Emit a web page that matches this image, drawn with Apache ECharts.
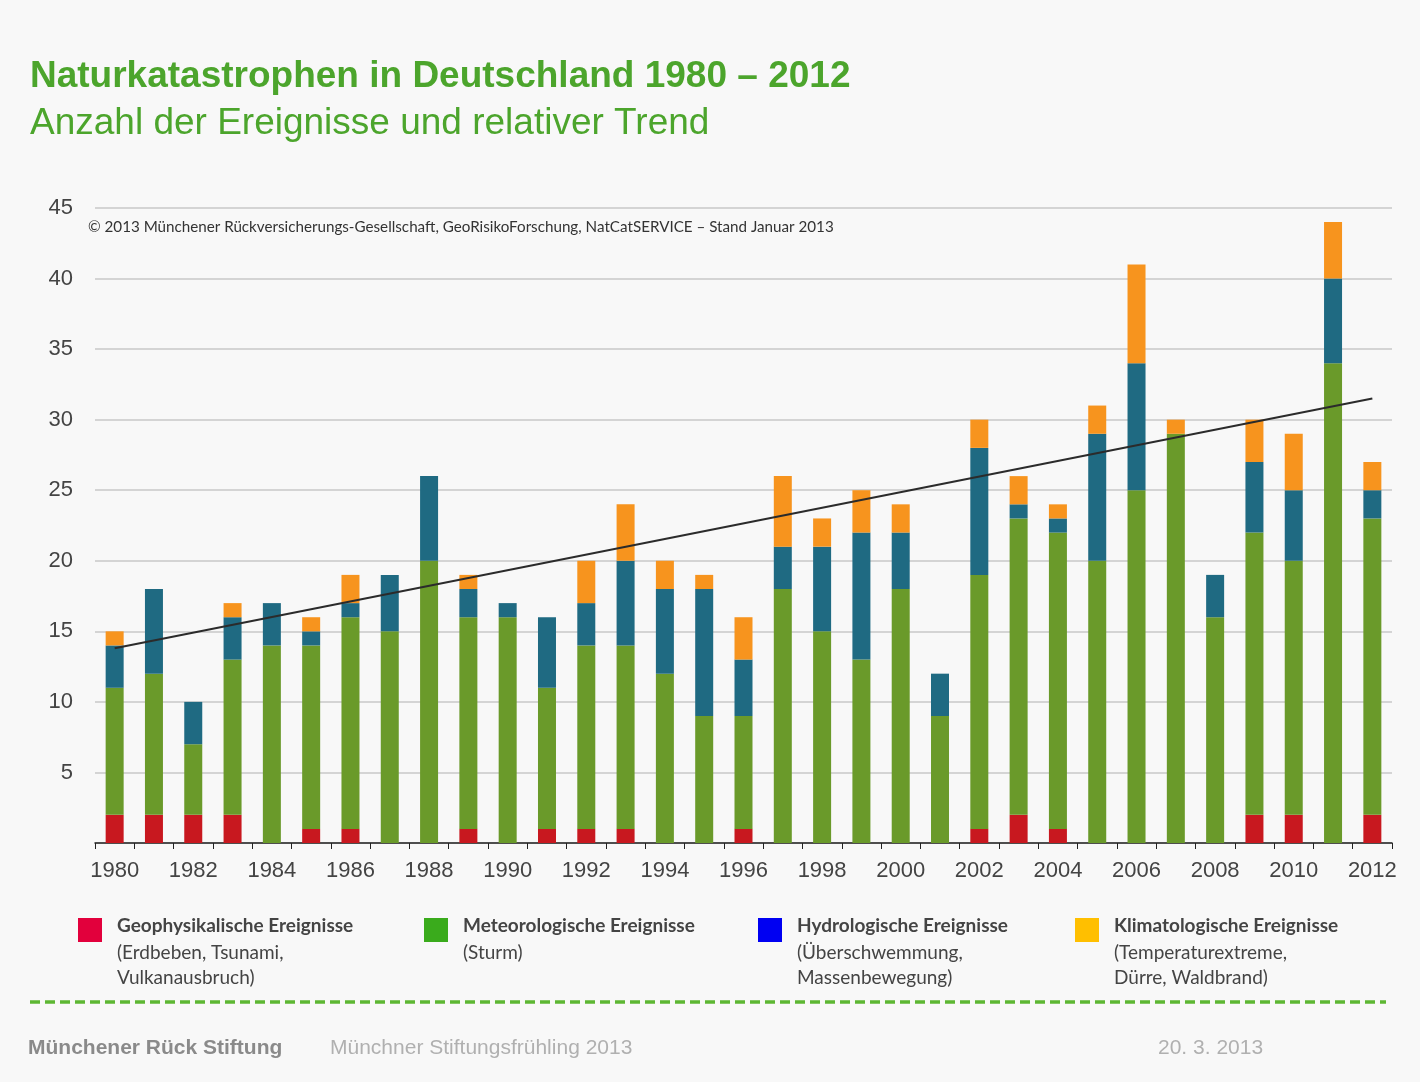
<!DOCTYPE html>
<html>
<head>
<meta charset="utf-8">
<script src="https://cdn.jsdelivr.net/npm/echarts@6/dist/echarts.min.js"></script>
<style>
  html, body { margin: 0; padding: 0; background: #f8f8f8; }
  #chart { width: 1420px; height: 1082px; }
</style>
</head>
<body>
<div id="chart"></div>
<script>
// Years on the x axis
const years = ['1980','1981','1982','1983','1984','1985','1986','1987','1988','1989',
  '1990','1991','1992','1993','1994','1995','1996','1997','1998','1999',
  '2000','2001','2002','2003','2004','2005','2006','2007','2008','2009',
  '2010','2011','2012'];

// Number of events per year, by category
const geophysical   = [2,2,2,2,0,1,1,0,0,1, 0,1,1,1,0,0,1,0,0,0, 0,0,1,2,1,0,0,0,0,2, 2,0,2];
const meteorological= [9,10,5,11,14,13,15,15,20,15, 16,10,13,13,12,9,8,18,15,13, 18,9,18,21,21,20,25,29,16,20, 18,34,21];
const hydrological  = [3,6,3,3,3,1,1,4,6,2, 1,5,3,6,6,9,4,3,6,9, 4,3,9,1,1,9,9,0,3,5, 5,6,2];
const climatological= [1,0,0,1,0,1,2,0,0,1, 0,0,3,4,2,1,3,5,2,3, 2,0,2,2,1,2,7,1,0,3, 4,4,2];

// Relative trend (linear), start and end values
const trendStart = 13.8;
const trendEnd = 31.5;

// Y axis tick values
const yTicks = [5,10,15,20,25,30,35,40,45];

const legendItems = [
  { color: '#e2003c', title: 'Geophysikalische Ereignisse', sub: '(Erdbeben, Tsunami,\nVulkanausbruch)' },
  { color: '#3aab1c', title: 'Meteorologische Ereignisse', sub: '(Sturm)' },
  { color: '#0000f2', title: 'Hydrologische Ereignisse', sub: '(Überschwemmung,\nMassenbewegung)' },
  { color: '#ffbf00', title: 'Klimatologische Ereignisse', sub: '(Temperaturextreme,\nDürre, Waldbrand)' }
];
const legendX = [78, 424, 758, 1075];

const chart = echarts.init(document.getElementById('chart'));

const barColors = ['#c8181f', '#6a9a2a', '#1f6a82', '#f7941e'];
const seriesData = [geophysical, meteorological, hydrological, climatological];
const seriesNames = ['Geophysikalische Ereignisse','Meteorologische Ereignisse','Hydrologische Ereignisse','Klimatologische Ereignisse'];

const bars = seriesData.map((d, i) => ({
  name: seriesNames[i],
  type: 'bar',
  stack: 'total',
  barWidth: 18,
  data: d,
  itemStyle: { color: barColors[i] },
  z: 2
}));

const sans = '"Liberation Sans", Arial, sans-serif';
const graphic = [
  { type: 'text', left: 30, top: 58, style: { text: 'Naturkatastrophen in Deutschland 1980 – 2012', fill: '#4ca52c', font: 'bold 37px ' + sans } },
  { type: 'text', left: 30, top: 105, style: { text: 'Anzahl der Ereignisse und relativer Trend', fill: '#4ca52c', font: '37px ' + sans } },
  { type: 'text', left: 88, top: 220, style: { text: '© 2013 Münchener Rückversicherungs-Gesellschaft, GeoRisikoForschung, NatCatSERVICE – Stand Januar 2013', fill: '#333', font: '15.2px Lato, sans-serif' } },
  { type: 'line', shape: { x1: 30, y1: 1002, x2: 1386, y2: 1002 }, style: { stroke: '#5db733', lineWidth: 3.5, lineDash: [10, 5] } },
  { type: 'text', left: 28, top: 1038, style: { text: 'Münchener Rück Stiftung', fill: '#8a8a8a', font: 'bold 21px ' + sans } },
  { type: 'text', left: 330, top: 1038, style: { text: 'Münchner Stiftungsfrühling 2013', fill: '#b0b0b0', font: '21px ' + sans } },
  { type: 'text', left: 1158, top: 1038, style: { text: '20. 3. 2013', fill: '#b0b0b0', font: '21px ' + sans } }
];
legendItems.forEach((it, i) => {
  const x = legendX[i];
  graphic.push({ type: 'rect', shape: { x: x, y: 918, width: 24, height: 24 }, style: { fill: it.color } });
  graphic.push({ type: 'text', left: x + 39, top: 916, style: { text: it.title, fill: '#444', font: 'bold 19px Lato, sans-serif' } });
  graphic.push({ type: 'text', left: x + 39, top: 940, style: { text: it.sub, fill: '#444', font: '19px Lato, sans-serif', lineHeight: 25 } });
});

chart.setOption({
  backgroundColor: '#f8f8f8',
  animation: false,
  grid: { left: 95, right: 28, top: 208, bottom: 239, containLabel: false },
  xAxis: {
    type: 'category',
    data: years,
    boundaryGap: true,
    axisLine: { lineStyle: { color: '#222', width: 1.5 } },
    axisTick: { show: true, length: 6, lineStyle: { color: '#222' }, interval: 0 },
    axisLabel: {
      interval: 1,
      margin: 17,
      color: '#444',
      fontSize: 22,
      fontFamily: sans
    }
  },
  yAxis: {
    type: 'value',
    min: 0,
    max: 45,
    interval: 5,
    axisLine: { show: false },
    axisTick: { show: false },
    splitLine: { lineStyle: { color: '#c8c8c8', width: 1.5 } },
    axisLabel: {
      margin: 22,
      color: '#444',
      fontSize: 22,
      fontFamily: sans,
      formatter: v => (yTicks.indexOf(v) >= 0 ? String(v) : '')
    }
  },
  series: bars.concat([{
    name: 'Trend',
    type: 'line',
    data: [[years[0], trendStart], [years[years.length - 1], trendEnd]],
    symbol: 'none',
    lineStyle: { color: '#2b2b2b', width: 2 },
    z: 5
  }]),
  graphic: graphic
});
</script>
</body>
</html>
